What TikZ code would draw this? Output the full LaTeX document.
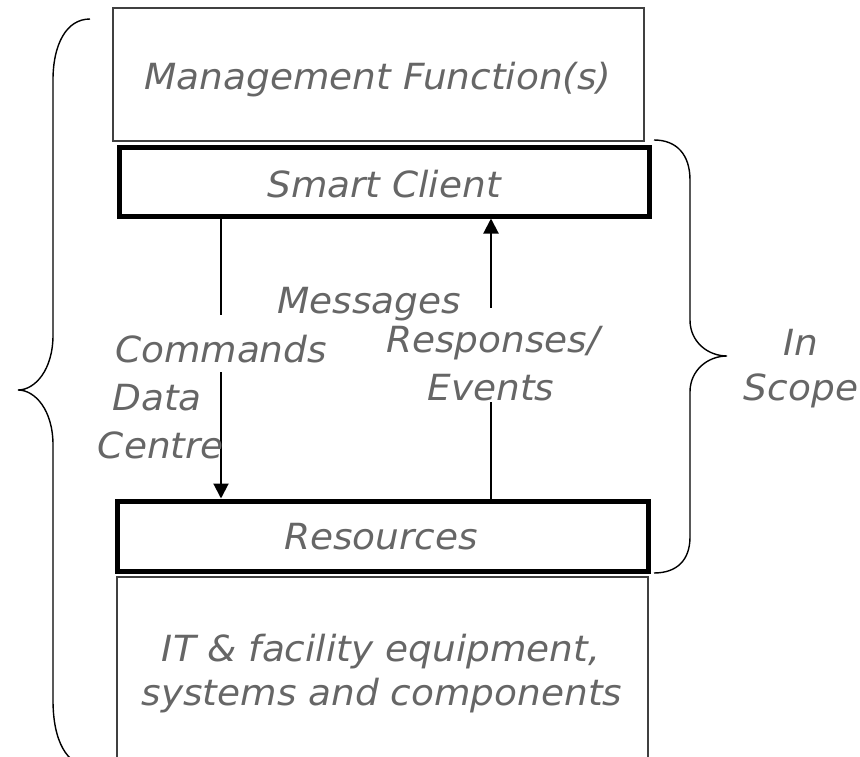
\documentclass[tikz,border=0pt]{standalone}
\usepackage{fontspec}
\setmainfont[ItalicFeatures={FakeStretch=1.04}]{DejaVu Sans}
\usetikzlibrary{arrows.meta}
\tikzset{
  x=1pt, y=-1pt,
  lbl/.style={font=\fontsize{36}{42}\selectfont\itshape, text=black!60, inner sep=0pt, anchor=base},
  thinbox/.style={draw=black!75, line width=1.3pt, fill=none, inner sep=0pt},
  thickbox/.style={draw=black, line width=5pt, fill=none, inner sep=0pt},
  conn/.style={draw=black, line width=2pt},
  arr/.style={conn, -{Triangle[length=15pt,width=15pt]}},
  brace/.style={draw=black, line width=1.4pt},
}
\begin{document}
\begin{tikzpicture}
\useasboundingbox (0,0) rectangle (860,757);
\clip (0,0) rectangle (860,757);
% boxes
\node[thinbox, minimum width=531pt, minimum height=133pt] (mgmt) at (378.5,74.5) {};
\node[thickbox, minimum width=530pt, minimum height=68pt] (client) at (384,182) {};
\node[thickbox, minimum width=531pt, minimum height=70pt] (res) at (382.5,536) {};
\node[thinbox, minimum width=531pt, minimum height=223pt] (it) at (382.5,688.5) {};
% connector x positions
\coordinate (cx) at (221,0);
\coordinate (rx) at (491,0);
\draw[arr] (cx |- client.south) -- (cx |- res.north);
\draw[arr] (rx |- res.north) -- (rx |- client.south);
% labels in boxes
\node[lbl] (tmgmt) at (378,90) {Management Function(s)};
\node[lbl] (tclient) at (384,197) {Smart Client};
\node[lbl] (tres) at (381,549) {Resources};
\node[lbl] (tit1) at (381,661) {IT \& facility equipment,};
\node[lbl] (tit2) at (382,705) {systems and components};
% labels with white background (gaps in connectors)
\node[lbl, fill=white, text height=47pt, text depth=10pt, inner xsep=2pt] (tcmd) at (221,362) {Commands};
\node[lbl, fill=white, text height=44pt, text depth=10pt, inner xsep=2pt] (tresp) at (493,352) {Responses/};
\node[lbl, fill=white, text height=40pt, text depth=2pt, inner xsep=2pt] (tevt) at (491,400) {Events};
\node[lbl] (tmsg) at (369,313) {Messages};
\node[lbl] (tdata) at (157,410) {Data};
\node[lbl] (tcentre) at (161,458) {Centre};
\node[lbl] (tin) at (801,355) {In};
\node[lbl] (tscope) at (801,400) {Scope};
% left brace
\draw[brace] (90,19) .. controls (66,19) and (53,45) .. (53,80)
  -- (53,335) .. controls (53,370) and (35,390) .. (18,390)
  .. controls (35,390) and (53,410) .. (53,445)
  -- (53,700) .. controls (53,740) and (66,766) .. (92,768);
% right brace
\draw[brace] (654,140) .. controls (677,140) and (690,155) .. (690,180)
  -- (690,320) .. controls (690,342) and (708,356) .. (727,356)
  .. controls (708,356) and (690,370) .. (690,392)
  -- (690,537) .. controls (690,560) and (677,573) .. (654,573);
\end{tikzpicture}
\end{document}
